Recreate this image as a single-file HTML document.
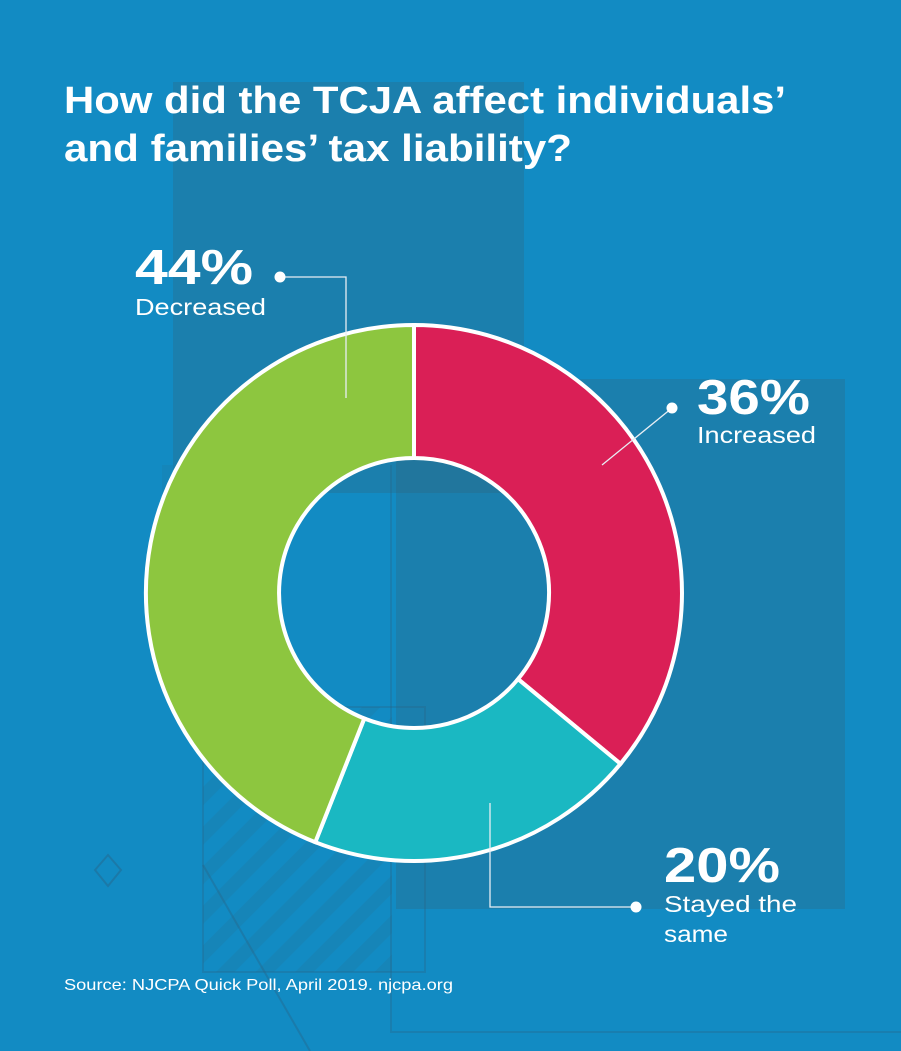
<!DOCTYPE html>
<html>
<head>
<meta charset="utf-8">
<style>
  html,body{margin:0;padding:0;background:#128bc3;}
  svg{display:block;}
  text{font-family:"Liberation Sans", Arial, sans-serif; fill:#ffffff;}
</style>
</head>
<body>
<svg width="901" height="1051" viewBox="0 0 901 1051" xmlns="http://www.w3.org/2000/svg">
  <defs>
    <pattern id="hatch" patternUnits="userSpaceOnUse" width="28" height="28" patternTransform="rotate(45)">
      <rect x="0" y="0" width="13" height="28" fill="rgba(40,100,130,0.17)"/>
    </pattern>
    <clipPath id="hclip">
      <rect x="203" y="707" width="189" height="265"/>
    </clipPath>
  </defs>

  <!-- background -->
  <rect x="0" y="0" width="901" height="1051" fill="#128bc3"/>

  <!-- dark rectangles -->
  <rect x="173" y="82" width="351" height="411" fill="rgba(51,99,122,0.3)"/>
  <rect x="396" y="379" width="449" height="530" fill="rgba(51,99,122,0.3)"/>
  <rect x="162" y="465" width="11" height="60" fill="rgba(51,99,122,0.12)"/>

  <!-- hatched area -->
  <rect x="203" y="707" width="189" height="265" fill="url(#hatch)" clip-path="url(#hclip)"/>

  <!-- outline rectangles -->
  <rect x="203" y="707" width="222" height="265" fill="none" stroke="rgba(40,100,135,0.32)" stroke-width="2"/>
  <path d="M391 465 L391 1032 L905 1032" fill="none" stroke="rgba(40,100,135,0.32)" stroke-width="2"/>

  <!-- diagonal line -->
  <line x1="203" y1="865" x2="310" y2="1051" stroke="rgba(40,100,135,0.4)" stroke-width="2"/>

  <!-- diamond -->
  <path d="M108 855 L121 870 L108 886 L95 870 Z" fill="none" stroke="rgba(40,100,135,0.45)" stroke-width="2"/>

  <!-- donut -->
  <g stroke="#ffffff" stroke-width="4" stroke-linejoin="miter">
    <path d="M414,325 A268,268 0 0 1 620.5,763.8 L518.0,679.1 A135,135 0 0 0 414,458 Z" fill="#da1f56"/>
    <path d="M620.5,763.8 A268,268 0 0 1 315.3,842.2 L364.3,718.5 A135,135 0 0 0 518.0,679.1 Z" fill="#1ab8c2"/>
    <path d="M315.3,842.2 A268,268 0 0 1 414,325 L414,458 A135,135 0 0 0 364.3,718.5 Z" fill="#8dc63f"/>
  </g>

  <!-- leader lines -->
  <g stroke="#e8eef4" stroke-width="1.3" fill="none">
    <path d="M280 277 L346 277 L346 398"/>
    <path d="M672 408 L602 465"/>
    <path d="M636 907 L490 907 L490 803"/>
  </g>
  <g fill="#ffffff">
    <circle cx="280" cy="277" r="5.5"/>
    <circle cx="672" cy="408" r="5.5"/>
    <circle cx="636" cy="907" r="5.5"/>
  </g>

  <!-- title -->
  <text x="64" y="113" font-size="38" font-weight="bold" textLength="722" lengthAdjust="spacingAndGlyphs">How did the TCJA affect individuals’</text>
  <text x="64" y="161" font-size="38" font-weight="bold" textLength="508" lengthAdjust="spacingAndGlyphs">and families’ tax liability?</text>

  <!-- labels -->
  <text x="135" y="284" font-size="49" font-weight="bold" textLength="118" lengthAdjust="spacingAndGlyphs">44%</text>
  <text x="135" y="315" font-size="23" textLength="131" lengthAdjust="spacingAndGlyphs">Decreased</text>

  <text x="697" y="414" font-size="49" font-weight="bold" textLength="113" lengthAdjust="spacingAndGlyphs">36%</text>
  <text x="697" y="443" font-size="23" textLength="119" lengthAdjust="spacingAndGlyphs">Increased</text>

  <text x="664" y="882" font-size="49" font-weight="bold" textLength="116" lengthAdjust="spacingAndGlyphs">20%</text>
  <text x="664" y="912" font-size="23" textLength="133" lengthAdjust="spacingAndGlyphs">Stayed the</text>
  <text x="664" y="942" font-size="23" textLength="64" lengthAdjust="spacingAndGlyphs">same</text>

  <!-- source -->
  <text x="64" y="990" font-size="16" textLength="389" lengthAdjust="spacingAndGlyphs">Source: NJCPA Quick Poll, April 2019. njcpa.org</text>
</svg>
</body>
</html>
